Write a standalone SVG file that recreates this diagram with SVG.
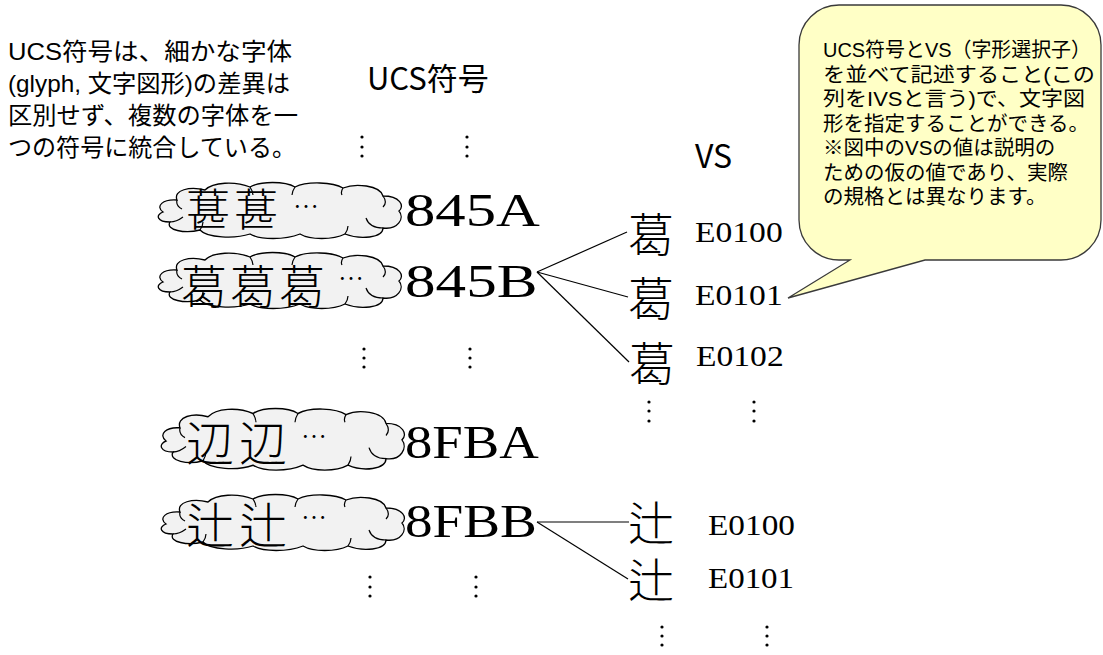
<svg xmlns="http://www.w3.org/2000/svg" xmlns:xlink="http://www.w3.org/1999/xlink" width="1103" height="655" viewBox="0 0 1103 655">
<style>
  .sans { font-family: 'Noto Sans CJK JP', 'Noto Sans', sans-serif; fill: #000; }
  .note { font-family: 'Liberation Sans', 'Noto Sans CJK JP', sans-serif; fill: #000; }
  .cjk { font-family: 'Noto Sans CJK JP', sans-serif; font-weight: 300; fill: #000; }
  .vsg { font-family: 'Liberation Serif', 'Noto Sans CJK JP', serif; font-weight: 300; fill: #000; }
  .code { font-family: 'Liberation Serif', 'Noto Sans CJK JP', serif; fill: #000; }
  .cloud { fill: #F2F2F2; stroke: #000; stroke-width: 1.3; }
  .curl { fill: none; stroke: #000; stroke-width: 1.2; }
  .conn { stroke: #000; stroke-width: 1.2; fill: none; }
  .dot { fill: #000; }
  .callout { fill: #FFFFC6; stroke: #3A3A3A; stroke-width: 1.3; }
</style>
<defs>
  <g id="cloudShape">
    <path class="cloud" d="M 8,30 C 0,24 8,17 22,18 C 18,8 35,4 50,8 C 58,0 80,-1 95,5 C 105,-1 130,-1 140,5 C 152,-1 178,0 188,6 C 200,1 225,3 228,14 C 245,14 250,24 244,29 C 250,36 243,48 228,46 C 228,56 205,58 190,52 C 178,58 155,58 145,52 C 130,58 105,58 95,52 C 80,57 52,56 45,48 C 30,52 10,48 15,40 C 2,40 0,33 8,30 Z"/>
    <path class="curl" d="M 22,18 C 21,22 23,25 27,27 M 15,40 C 20,40 24,38 28,35 M 45,48 C 47,45 48,43 48,40 M 228,14 C 231,18 231,22 228,25 M 228,46 C 219,46 213,42 211,36 M 190,52 C 192,49 193,47 193,44 M 95,5 C 97,8 98,10 98,13 M 140,5 C 138,8 137,10 137,13 M 188,6 C 186,9 186,11 187,13"/>
  </g>
</defs>

<g id="connectors">
  <line class="conn" x1="537" y1="272" x2="627" y2="232"/>
  <line class="conn" x1="537" y1="272" x2="628" y2="297"/>
  <line class="conn" x1="537" y1="272" x2="629" y2="362"/>
  <line class="conn" x1="537" y1="522" x2="629" y2="522"/>
  <line class="conn" x1="537" y1="522" x2="628" y2="579"/>
</g>

<g id="note-left">
  <text class="note" font-size="24" x="8" y="60" textLength="284" lengthAdjust="spacingAndGlyphs">UCS符号は、細かな字体</text>
  <text class="note" font-size="24" x="8" y="92" textLength="282" lengthAdjust="spacingAndGlyphs">(glyph, 文字図形)の差異は</text>
  <text class="note" font-size="24" x="8" y="124" textLength="290" lengthAdjust="spacingAndGlyphs">区別せず、複数の字体を一</text>
  <text class="note" font-size="24" x="8" y="156" textLength="288" lengthAdjust="spacingAndGlyphs">つの符号に統合している。</text>
</g>

<g id="header-ucs">
  <text class="sans" font-size="31" x="367" y="90">UCS符号</text>
</g>
<g id="header-vs">
  <text class="sans" font-size="32" x="695" y="168">VS</text>
</g>

<g id="dots">
  <circle class="dot" cx="362" cy="137" r="1.6"/><circle class="dot" cx="362" cy="147" r="1.6"/><circle class="dot" cx="362" cy="156" r="1.6"/>
  <circle class="dot" cx="467" cy="137" r="1.6"/><circle class="dot" cx="467" cy="147" r="1.6"/><circle class="dot" cx="467" cy="156" r="1.6"/>
  <circle class="dot" cx="364" cy="349" r="1.6"/><circle class="dot" cx="364" cy="358" r="1.6"/><circle class="dot" cx="364" cy="367" r="1.6"/>
  <circle class="dot" cx="470" cy="349" r="1.6"/><circle class="dot" cx="470" cy="358" r="1.6"/><circle class="dot" cx="470" cy="367" r="1.6"/>
  <circle class="dot" cx="649" cy="402" r="1.6"/><circle class="dot" cx="649" cy="411" r="1.6"/><circle class="dot" cx="649" cy="421" r="1.6"/>
  <circle class="dot" cx="754" cy="402" r="1.6"/><circle class="dot" cx="754" cy="411" r="1.6"/><circle class="dot" cx="754" cy="421" r="1.6"/>
  <circle class="dot" cx="370" cy="577" r="1.6"/><circle class="dot" cx="370" cy="587" r="1.6"/><circle class="dot" cx="370" cy="596" r="1.6"/>
  <circle class="dot" cx="476" cy="577" r="1.6"/><circle class="dot" cx="476" cy="587" r="1.6"/><circle class="dot" cx="476" cy="596" r="1.6"/>
  <circle class="dot" cx="662" cy="627" r="1.6"/><circle class="dot" cx="662" cy="636" r="1.6"/><circle class="dot" cx="662" cy="645" r="1.6"/>
  <circle class="dot" cx="767" cy="627" r="1.6"/><circle class="dot" cx="767" cy="636" r="1.6"/><circle class="dot" cx="767" cy="645" r="1.6"/>
</g>

<g id="cloud-845A">
  <use xlink:href="#cloudShape" href="#cloudShape" transform="translate(155,182)"/>
  <text class="cjk" font-size="44" x="186" y="226" letter-spacing="4">葚葚</text>
  <text class="cjk" font-size="26" x="293" y="216">…</text>
</g>
<g id="cloud-845B">
  <use xlink:href="#cloudShape" href="#cloudShape" transform="translate(155,252)"/>
  <text class="cjk" font-size="46" x="181" y="303" letter-spacing="3">葛葛葛</text>
  <text class="cjk" font-size="26" x="338" y="288">…</text>
</g>
<g id="cloud-8FBA">
  <use xlink:href="#cloudShape" href="#cloudShape" transform="translate(158,408) scale(1,1.1)"/>
  <text class="cjk" font-size="48" x="186" y="461" letter-spacing="5">辺辺</text>
  <text class="cjk" font-size="26" x="301" y="446">…</text>
</g>
<g id="cloud-8FBB">
  <use xlink:href="#cloudShape" href="#cloudShape" transform="translate(158,494)"/>
  <text class="cjk" font-size="48" x="186" y="543" letter-spacing="5">辻辻</text>
  <text class="cjk" font-size="26" x="301" y="527">…</text>
</g>

<g id="code-845A"><text class="code" font-size="46" transform="translate(405,226) scale(1.32,1)" x="0" y="0">845A</text></g>
<g id="code-845B"><text class="code" font-size="46" transform="translate(405,297) scale(1.33,1)" x="0" y="0">845B</text></g>
<g id="code-8FBA"><text class="code" font-size="46" transform="translate(405,458) scale(1.19,1)" x="0" y="0">8FBA</text></g>
<g id="code-8FBB"><text class="code" font-size="46" transform="translate(405,537) scale(1.2,1)" x="0" y="0">8FBB</text></g>

<g id="vs-845B-E0100">
  <text class="vsg" font-size="46" x="628" y="251">葛</text>
  <text class="code" font-size="30" transform="translate(695,242) scale(1.12,1)" x="0" y="0">E0100</text>
</g>
<g id="vs-845B-E0101">
  <text class="vsg" font-size="46" x="628" y="315">葛</text>
  <text class="code" font-size="30" transform="translate(695,305) scale(1.12,1)" x="0" y="0">E0101</text>
</g>
<g id="vs-845B-E0102">
  <text class="vsg" font-size="46" x="629" y="380">葛</text>
  <text class="code" font-size="30" transform="translate(696,366) scale(1.12,1)" x="0" y="0">E0102</text>
</g>
<g id="vs-8FBB-E0100">
  <text class="vsg" font-size="46" x="628" y="540">辻</text>
  <text class="code" font-size="30" transform="translate(708,535) scale(1.11,1)" x="0" y="0">E0100</text>
</g>
<g id="vs-8FBB-E0101">
  <text class="vsg" font-size="46" x="628" y="597">辻</text>
  <text class="code" font-size="30" transform="translate(708,588) scale(1.1,1)" x="0" y="0">E0101</text>
</g>

<g id="callout">
  <path class="callout" d="M 839,5 H 1061 A 40 40 0 0 1 1101,45 V 220 A 40 40 0 0 1 1061,260 H 925 L 788,298 L 850,260 H 839 A 40 40 0 0 1 799,220 V 45 A 40 40 0 0 1 839,5 Z"/>
  <text class="note" font-size="20.5" x="823" y="57" textLength="268" lengthAdjust="spacingAndGlyphs">UCS符号とVS（字形選択子）</text>
  <text class="note" font-size="20.5" x="823" y="81.5" textLength="272" lengthAdjust="spacingAndGlyphs">を並べて記述すること(この</text>
  <text class="note" font-size="20.5" x="823" y="106" textLength="262" lengthAdjust="spacingAndGlyphs">列をIVSと言う)で、文字図</text>
  <text class="note" font-size="20.5" x="823" y="130.5">形を指定することができる。</text>
  <text class="note" font-size="20.5" x="823" y="155">※図中のVSの値は説明の</text>
  <text class="note" font-size="20.5" x="823" y="179.5">ための仮の値であり、実際</text>
  <text class="note" font-size="20.5" x="823" y="204">の規格とは異なります。</text>
</g>
</svg>
